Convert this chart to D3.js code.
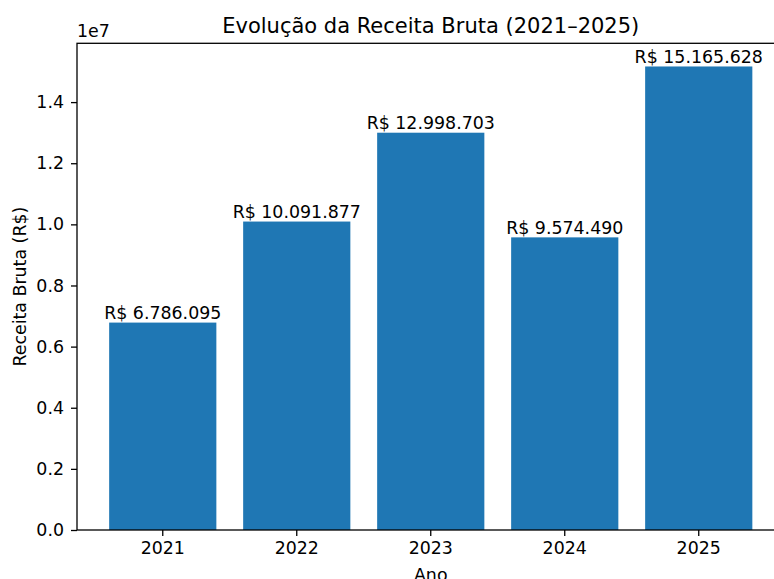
<!DOCTYPE html>
<html>
<head>
<meta charset="utf-8">
<script src="https://cdn.jsdelivr.net/npm/d3@7"></script>
<style>
  body { margin: 0; background: #fff; }
  text { font-family: "DejaVu Sans", sans-serif; fill: #000; }
</style>
</head>
<body>
<div id="chart"></div>
<script>
const anos = ["2021", "2022", "2023", "2024", "2025"];
const receitas = [6786095, 10091877, 12998703, 9574490, 15165628];
const yTicks = [0, 2e6, 4e6, 6e6, 8e6, 10e6, 12e6, 14e6];

const width = 774;
const height = 579;
const margin = { top: 43.3, right: -10.5, bottom: 49, left: 77 };
const fs = "17.4px";

const ptBR = d3.formatLocale({ decimal: ",", thousands: ".", grouping: [3], currency: ["R$ ", ""] });
const fmtBRL = (v) => "R$ " + ptBR.format(",.0f")(v);

const svg = d3.select("#chart")
    .append("svg")
    .attr("width", width)
    .attr("height", height)
    .attr("viewBox", [0, 0, width, height]);

const xScale = d3.scaleBand()
    .domain(anos)
    .range([margin.left, width - margin.right])
    .paddingInner(0.2)
    .paddingOuter(0.24);

const yScale = d3.scaleLinear()
    .domain([0, d3.max(receitas) * 1.05])
    .range([height - margin.bottom, margin.top]);

const data = anos.map((a, i) => ({ ano: a, valor: receitas[i] }));

// bars
svg.append("g")
    .selectAll("rect")
    .data(data)
    .join("rect")
    .attr("x", (d) => xScale(d.ano))
    .attr("y", (d) => yScale(d.valor))
    .attr("width", xScale.bandwidth())
    .attr("height", (d) => yScale(0) - yScale(d.valor))
    .attr("fill", "#1f77b4");

// bar labels
svg.append("g")
    .selectAll("text")
    .data(data)
    .join("text")
    .attr("x", (d) => xScale(d.ano) + xScale.bandwidth() / 2)
    .attr("y", (d) => yScale(d.valor) - 3.5)
    .attr("text-anchor", "middle")
    .style("font-size", fs)
    .text((d) => fmtBRL(d.valor));

// axes
const xAxis = svg.append("g")
    .attr("transform", `translate(0,${height - margin.bottom})`)
    .call(d3.axisBottom(xScale).tickSizeOuter(0).tickSize(6).tickPadding(6));

const yAxis = svg.append("g")
    .attr("transform", `translate(${margin.left},0)`)
    .call(d3.axisLeft(yScale).tickValues(yTicks).tickFormat((v) => (v / 1e7).toFixed(1))
        .tickSizeOuter(0).tickSize(6).tickPadding(7));

[xAxis, yAxis].forEach((g) => {
    g.select(".domain").remove();
    g.selectAll("line").attr("stroke", "#000").attr("stroke-width", 1.3);
    g.selectAll("text").style("font-size", fs).attr("fill", "#000")
        .style("font-family", "DejaVu Sans, sans-serif");
});

// spines
const x0 = margin.left, x1 = width - margin.right;
const y0 = margin.top, y1 = height - margin.bottom;
svg.append("rect")
    .attr("x", x0).attr("y", y0)
    .attr("width", x1 - x0).attr("height", y1 - y0)
    .attr("fill", "none")
    .attr("stroke", "#000")
    .attr("stroke-width", 1.3);

// offset text
svg.append("text")
    .attr("x", x0)
    .attr("y", y0 - 6)
    .style("font-size", fs)
    .text("1e7");

// title
svg.append("text")
    .attr("x", (x0 + x1) / 2)
    .attr("y", 33)
    .attr("text-anchor", "middle")
    .style("font-size", "21px")
    .text("Evolução da Receita Bruta (2021–2025)");

// axis labels
svg.append("text")
    .attr("x", (x0 + x1) / 2)
    .attr("y", 581)
    .attr("text-anchor", "middle")
    .style("font-size", fs)
    .text("Ano");

svg.append("text")
    .attr("transform", `translate(26,${(y0 + y1) / 2}) rotate(-90)`)
    .attr("text-anchor", "middle")
    .style("font-size", fs)
    .text("Receita Bruta (R$)");
</script>
</body>
</html>
